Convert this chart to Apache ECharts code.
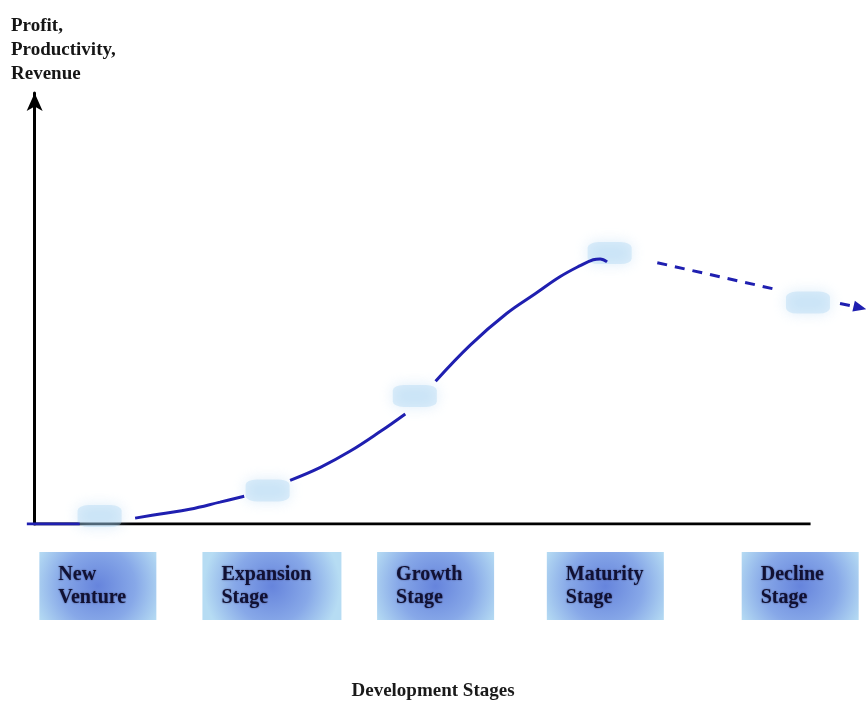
<!DOCTYPE html>
<html>
<head>
<meta charset="utf-8">
<script src="https://cdn.jsdelivr.net/npm/echarts@6/dist/echarts.min.js"></script>
<style>
html, body { margin: 0; padding: 0; background: #fff; }
#chart { width: 866px; height: 706px; }
</style>
</head>
<body>
<div id="chart"></div>
<script>
// stages along the x axis (time units, 0 = vertical axis)
var stageNames = ['New\nVenture', 'Expansion\nStage', 'Growth\nStage', 'Maturity\nStage', 'Decline\nStage'];
var stageX = [7.3, 27.4, 46.3, 65.9, 88.4];

// milestone marks sitting on the curve
var milestoneX = [7.5, 26.9, 43.9, 66.4, 89.3];
var milestoneY = [1.9, 8.0, 30.5, 64.5, 52.7];

// solid curve, broken where the milestones sit
var startX = [-0.9, 5.2];
var startY = [0, 0];
var expansionX = [11.6, 14.5, 17.9, 21.4, 24.2];
var expansionY = [1.4, 2.4, 3.5, 5.2, 6.6];
var growthX = [29.5, 33.0, 36.4, 39.9, 42.8];
var growthY = [10.4, 13.5, 17.3, 22.0, 26.2];
var maturityX = [46.3, 50.3, 54.5, 57.8, 60.7, 63.0, 64.5, 65.3, 66.1];
var maturityY = [34.0, 42.6, 50.1, 54.8, 58.9, 61.5, 62.9, 63.1, 62.4];

// dashed decline, ends in an arrow
var declineX = [71.9, 85.7, null, 93.0, 95.3];
var declineY = [62.2, 55.8, null, 52.5, 51.5];

// horizontal axis line extent
var baseX = [0, 89.6];

function pairs(xs, ys) {
    return xs.map(function (x, i) { return x === null ? ['-', '-'] : [x, ys[i]]; });
}

var curveData = pairs(startX, startY)
    .concat([['-', '-']], pairs(expansionX, expansionY))
    .concat([['-', '-']], pairs(growthX, growthY))
    .concat([['-', '-']], pairs(maturityX, maturityY));

var declineData = pairs(declineX, declineY).map(function (p, i, arr) {
    if (i === arr.length - 1) {
        return { value: p, symbol: 'triangle', symbolSize: [11, 13], symbolRotate: -103 };
    }
    return { value: p, symbol: 'none' };
});

var blue = '#1f1fb0';
var boxFill = {
    type: 'radial', x: 0.5, y: 0.5, r: 1,
    colorStops: [
        { offset: 0, color: '#6684dc' },
        { offset: 0.55, color: '#87a8e8' },
        { offset: 1, color: '#b6dcf3' }
    ]
};
var boxText = {
    align: 'left', lineHeight: 23,
    fontFamily: 'Liberation Serif', fontSize: 20, fontWeight: 'bold',
    color: '#111133', textShadowColor: 'rgba(20,20,70,0.6)', textShadowBlur: 2
};

var myChart = echarts.init(document.getElementById('chart'));
myChart.setOption({
    animation: false,
    backgroundColor: '#ffffff',
    title: {
        text: 'Profit,\nProductivity,\nRevenue',
        left: 6,
        top: 9,
        textStyle: {
            fontFamily: 'Liberation Serif',
            fontSize: 19,
            fontWeight: 'bold',
            lineHeight: 24,
            color: '#161616'
        }
    },
    grid: { left: 0, right: 0, top: 93, bottom: 179 },
    xAxis: {
        type: 'value',
        min: -4,
        max: 96,
        name: 'Development Stages',
        nameLocation: 'middle',
        nameGap: 158,
        nameTextStyle: {
            fontFamily: 'Liberation Serif',
            fontSize: 19,
            fontWeight: 'bold',
            color: '#1a1a1a'
        },
        axisLine: { show: false },
        axisTick: { show: false },
        splitLine: { show: false },
        axisLabel: {
            customValues: stageX,
            margin: 28,
            backgroundColor: boxFill,
            padding: [11, 16, 11, 19],
            formatter: function (v) {
                var i = stageX.indexOf(v);
                var lines = stageNames[i].split('\n');
                var key = i === 1 ? 'w' : 'a';
                return lines.map(function (l) { return '{' + key + '|' + l + '}'; }).join('\n');
            },
            rich: {
                a: Object.assign({ width: 82 }, boxText),
                w: Object.assign({ width: 104 }, boxText)
            }
        }
    },
    yAxis: {
        type: 'value',
        min: 0,
        max: 102.6,
        axisLine: {
            show: true,
            onZero: true,
            symbol: ['none', 'arrow'],
            symbolSize: [12, 18],
            lineStyle: { color: '#000', width: 3 }
        },
        axisTick: { show: false },
        axisLabel: { show: false },
        splitLine: { show: false }
    },
    series: [
        {
            name: 'axis',
            type: 'line',
            data: pairs(baseX, [0, 0]),
            symbol: 'none',
            lineStyle: { color: '#000', width: 3 },
            z: 1
        },
        {
            name: 'milestones',
            type: 'scatter',
            data: pairs(milestoneX, milestoneY),
            symbol: 'roundRect',
            symbolSize: [44, 22],
            itemStyle: {
                color: 'rgba(165, 212, 240, 0.45)',
                shadowBlur: 14,
                shadowColor: 'rgba(150, 200, 240, 0.9)'
            },
            z: 2
        },
        {
            name: 'curve',
            type: 'line',
            data: curveData,
            smooth: 0.4,
            symbol: 'none',
            connectNulls: false,
            lineStyle: { color: blue, width: 3 },
            z: 3
        },
        {
            name: 'decline',
            type: 'line',
            data: declineData,
            connectNulls: false,
            itemStyle: { color: blue },
            lineStyle: { color: blue, width: 3, type: [10, 8] },
            z: 3
        }
    ]
});
</script>
</body>
</html>
